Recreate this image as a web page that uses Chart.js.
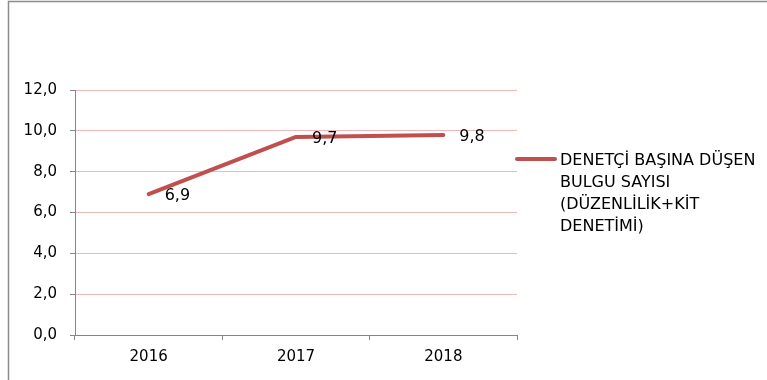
<!DOCTYPE html>
<html>
<head>
<meta charset="utf-8">
<script src="https://cdn.jsdelivr.net/npm/chart.js@4.4.1/dist/chart.umd.min.js"></script>
<style>
html,body{margin:0;padding:0;background:#fff;}
#wrap{position:relative;width:767px;height:380px;}
canvas{display:block;}
</style>
</head>
<body>
<div id="wrap"><canvas id="c" width="767" height="380"></canvas></div>
<script>
const categories = ['2016', '2017', '2018'];
const seriesValues = [6.9, 9.7, 9.8];
const seriesLabelLines = ['DENETÇİ BAŞINA DÜŞEN', 'BULGU SAYISI', '(DÜZENLİLİK+KİT', 'DENETİMİ)'];
const yTicks = [0, 2, 4, 6, 8, 10, 12];

const FONT = 'DejaVu Sans';
const LINE_COLOR = '#C0504D';
const AXIS_GRAY = '#868686';
const GRID_PINK = '#EDBAB9';

const fmt = v => Number(v).toFixed(1).replace('.', ',');

const framePlugin = {
  id: 'frame',
  beforeDraw(chart) {
    const ctx = chart.ctx;
    ctx.save();
    ctx.fillStyle = '#fff';
    ctx.fillRect(0, 0, chart.width, chart.height);
    ctx.strokeStyle = '#8C8C8C';
    ctx.lineWidth = 1.5;
    ctx.beginPath();
    ctx.moveTo(8.5, chart.height);
    ctx.lineTo(8.5, 1.5);
    ctx.lineTo(chart.width, 1.5);
    ctx.stroke();
    ctx.restore();
  }
};

const labelPlugin = {
  id: 'pointLabels',
  afterDatasetsDraw(chart) {
    const ctx = chart.ctx;
    const meta = chart.getDatasetMeta(0);
    ctx.save();
    ctx.font = '16px "' + FONT + '"';
    ctx.fillStyle = '#000';
    ctx.textAlign = 'left';
    ctx.textBaseline = 'middle';
    meta.data.forEach((pt, i) => {
      ctx.fillText(fmt(chart.data.datasets[0].data[i]), pt.x + 16, pt.y + 2);
    });
    ctx.restore();
  }
};

const legendPlugin = {
  id: 'sideLegend',
  afterDraw(chart) {
    const ctx = chart.ctx;
    const ds = chart.data.datasets[0];
    ctx.save();
    ctx.strokeStyle = ds.borderColor;
    ctx.lineWidth = 4;
    ctx.lineCap = 'round';
    ctx.beginPath();
    ctx.moveTo(517, 159);
    ctx.lineTo(555, 159);
    ctx.stroke();
    ctx.font = '16px "' + FONT + '"';
    ctx.fillStyle = '#000';
    ctx.textAlign = 'left';
    ctx.textBaseline = 'middle';
    seriesLabelLines.forEach((t, i) => {
      ctx.fillText(t, 560, 161 + i * 22);
    });
    ctx.restore();
  }
};

new Chart(document.getElementById('c'), {
  type: 'line',
  data: {
    labels: categories,
    datasets: [{
      label: seriesLabelLines.join(' '),
      data: seriesValues,
      borderColor: LINE_COLOR,
      backgroundColor: LINE_COLOR,
      borderWidth: 4,
      borderCapStyle: 'round',
      borderJoinStyle: 'round',
      pointRadius: 0,
      pointHoverRadius: 0,
      tension: 0,
      fill: false
    }]
  },
  options: {
    responsive: false,
    animation: false,
    events: [],
    layout: { padding: { left: 0, top: 90, right: 250, bottom: 0 } },
    plugins: {
      legend: { display: false },
      tooltip: { enabled: false },
      title: { display: false }
    },
    scales: {
      x: {
        offset: true,
        grid: {
          offset: true,
          drawOnChartArea: false,
          drawTicks: true,
          tickLength: 5,
          tickColor: AXIS_GRAY,
          color: AXIS_GRAY
        },
        border: { display: true, color: AXIS_GRAY, width: 1 },
        ticks: {
          color: '#000',
          font: { family: FONT, size: 15 },
          padding: 8,
          maxRotation: 0
        },
        afterFit(scale) { scale.height = 45; }
      },
      y: {
        min: 0,
        max: 12,
        afterBuildTicks(scale) { scale.ticks = yTicks.map(v => ({ value: v })); },
        grid: {
          color: GRID_PINK,
          lineWidth: 1,
          drawTicks: true,
          tickLength: 5,
          tickColor: AXIS_GRAY
        },
        border: { display: true, color: AXIS_GRAY, width: 1 },
        ticks: {
          color: '#000',
          font: { family: FONT, size: 15 },
          padding: 13,
          callback: v => fmt(v)
        },
        afterFit(scale) { scale.width = 75; }
      }
    }
  },
  plugins: [framePlugin, labelPlugin, legendPlugin]
});
</script>
</body>
</html>
